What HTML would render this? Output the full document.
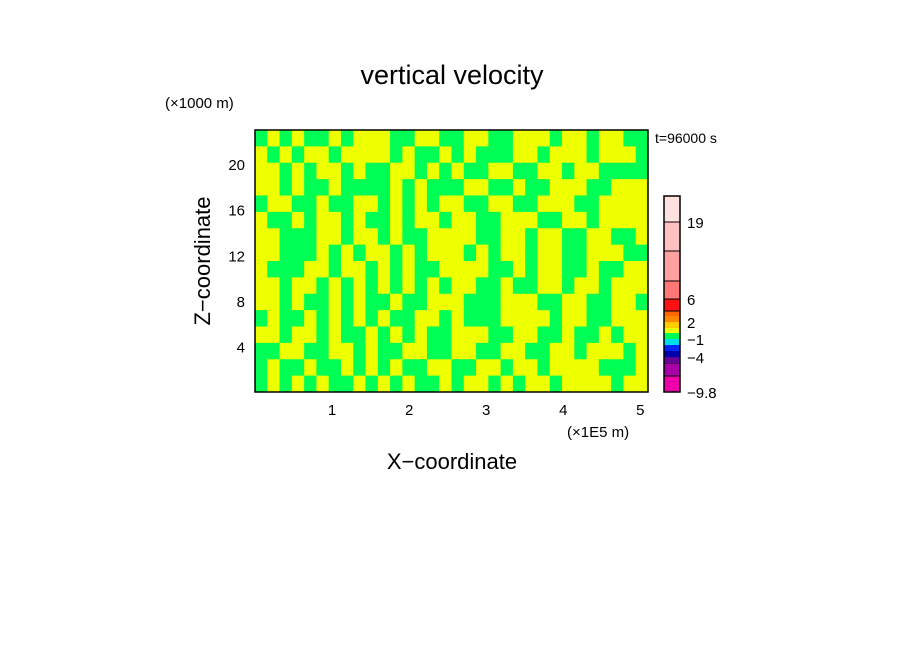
<!DOCTYPE html>
<html><head><meta charset="utf-8">
<style>
html,body{margin:0;padding:0;background:#fff;}
svg{display:block;font-family:"Liberation Sans","DejaVu Sans",sans-serif;}
</style></head>
<body>
<svg id="chart" width="904" height="654" viewBox="0 0 904 654" xmlns="http://www.w3.org/2000/svg">
  <rect width="904" height="654" fill="#fff"/>
  <text x="452" y="84" font-size="27" text-anchor="middle">vertical velocity</text>
  <text x="165" y="108" font-size="15">(×1000 m)</text>
  <text x="655" y="143" font-size="14">t=96000 s</text>
  <g id="heat"></g>
  <rect x="255" y="130" width="393" height="262" fill="none" stroke="#000" stroke-width="1.5"/>
  <g id="xticks"></g>
  <g id="yticks"></g>
  <text x="567" y="437" font-size="15">(×1E5 m)</text>
  <text x="452" y="469" font-size="22" text-anchor="middle">X−coordinate</text>
  <text x="0" y="0" font-size="22" text-anchor="middle" transform="translate(210,261) rotate(-90)">Z−coordinate</text>
  <g id="cbar"></g>
</svg>
<script>
// ---- data ----
const xTicks = [1, 2, 3, 4, 5];
const zTicks = [4, 8, 12, 16, 20];
const xMax = 5.1, zMax = 23.0;
// field sampled on a coarse grid (Y = updraft ~0.5 m/s, G = downdraft ~-0.5 m/s), top row first
const fieldRows = [
"GYGYGGYGYYYGGYYGGYYGGYYYGYYGYYGG",
"YGYGYYGYYYYGYGGYGYGGGYYGYYYGYYYG",
"YYGYGYYGYGGYYGYGYGGYYGGYYGYYGGGG",
"YYGYGGYGGGGYGYGGGYYGGYGGYYYGGYYY",
"GYYGGYGGYYGYGYGYYGGYYGGYYYGGYYYY",
"YGGYGYYGYGGYGYYGYYGGYYYGGYYGYYYY",
"YYGGGYYGYYGYGGYYYYGGYYGYYGGYYGGY",
"YYGGGYGYGYYGYGYYYGYGYYGYYGGYYYGG",
"YGGGYYGYYGYGYGGYYYYGGYGYYGGYGGYY",
"YYGYYGYGYGYGYGYGYYGGYGGYYGYYGYYY",
"YYGYGGYGYGGYGGYYYGGGYYYGGYYGGYYG",
"GYGGYGYGYGYGGYYGYGGGYYYYGYYGGYYY",
"YYGYYGYGGYGYGYGGYYYGGYYGGYGGYGYY",
"GGYYGGYYGYGGYYGGYYGGYYGGYYGYYYGY",
"GYGGYGGYGYGYGGYYGGYYGYYGYYYYGGGY",
"GYGYGYGGYGYGYGGYGYYGYGYYGYYYYGYY"
];
const updraft = 0.5, downdraft = -0.5;
const levels = [-9.8, -7, -5, -4, -3, -2, -1, 0, 1, 2, 3, 4, 6, 10, 14, 19, 30];
const levelColors = ["#ee00aa","#aa00aa","#660099","#0000aa","#0022ff","#00ddee","#00ff55","#eeff00","#ffcc00","#ff8800","#ff6600","#ff1111","#ff7777","#ffa0a0","#ffc0c0","#ffe0e0"];
const cbarLabels = ["−9.8", "−4", "−1", "2", "6", "19"];
const cbarLabelLevels = [-9.8, -4, -1, 2, 6, 19];

// ---- axes ----
const PX0 = 255, PX1 = 648, PY0 = 130, PY1 = 392;
const xScale = v => PX0 + v / xMax * (PX1 - PX0);
const zScale = v => PY1 - v / zMax * (PY1 - PY0);
// colorbar boundary positions (non-linear segments, by index)
const cbEdges = [392,376,363,357,351,345,339,333,328,322,316,311,299,281,251,222,196];
const cbY = i => cbEdges[i];
const NS = "http://www.w3.org/2000/svg";
function mk(tag, attrs, parent) {
  const e = document.createElementNS(NS, tag);
  for (const k in attrs) e.setAttribute(k, attrs[k]);
  parent.appendChild(e); return e;
}
function colorFor(v) {
  for (let i = 0; i < levelColors.length; i++) if (v < levels[i + 1]) return levelColors[i];
  return levelColors[levelColors.length - 1];
}
const heat = document.getElementById('heat');
const nR = fieldRows.length, nC = fieldRows[0].length;
for (let r = 0; r < nR; r++) {
  for (let c = 0; c < nC; c++) {
    const v = fieldRows[r][c] === 'Y' ? updraft : downdraft;
    const x0 = xScale(c / nC * xMax), x1 = xScale((c + 1) / nC * xMax);
    const y0 = zScale(zMax - r / nR * zMax), y1 = zScale(zMax - (r + 1) / nR * zMax);
    const el = mk('rect', {x: x0, y: y0, width: x1 - x0 + 0.5, height: y1 - y0 + 0.5, fill: colorFor(v)}, heat);
    
    
  }
}
const xt = document.getElementById('xticks');
xTicks.forEach(v => {
  const t = mk('text', {x: xScale(v), y: 415, 'font-size': 15, 'text-anchor': 'middle'}, xt);
  t.textContent = v;
  
  
});
const yt = document.getElementById('yticks');
zTicks.forEach(v => {
  const t = mk('text', {x: 245, y: zScale(v) + 6, 'font-size': 15, 'text-anchor': 'end'}, yt);
  t.textContent = v;
  
  
});
const cb = document.getElementById('cbar');
levelColors.forEach((col, i) => {
  const y0 = cbY(i + 1), y1 = cbY(i);
  const r = mk('rect', {x: 664, y: y0, width: 16, height: y1 - y0, fill: col, stroke: '#000', 'stroke-width': (y1 - y0 > 8 ? 1 : 0)}, cb);
  
  
});
mk('rect', {x: 664, y: cbY(levelColors.length), width: 16, height: cbY(0) - cbY(levelColors.length), fill: 'none', stroke: '#000', 'stroke-width': 1.5}, cb);
cbarLabels.forEach((lab, i) => {
  const idx = levels.indexOf(cbarLabelLevels[i]);
  const t = mk('text', {x: 687, y: cbY(idx) + 6, 'font-size': 15}, cb);
  t.textContent = lab;
  
  
});
</script>
</body></html>
